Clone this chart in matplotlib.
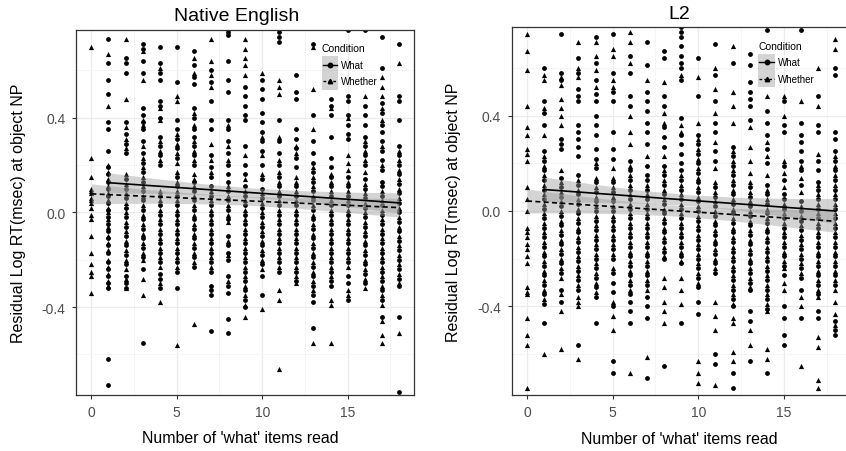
import numpy as np
import matplotlib
matplotlib.use("Agg")
import matplotlib.pyplot as plt
from matplotlib.patches import Rectangle
from matplotlib.lines import Line2D
from matplotlib.ticker import MultipleLocator, FormatStrFormatter

plt.rcParams['font.family'] = ['Liberation Sans', 'DejaVu Sans']
plt.rcParams['axes.unicode_minus'] = False

# residual log RT, in hundredths, one list per number of 'what' items read (0..18)
en_what = [
    [],
    [73, 63, 56, 50, 38, 35, 26, 19, 16, 13, 10, 7, 4, 1, -2, -5, -8, -11, -14, -17, -21, -24, -27, -30, -32, -62, -73],
    [65, 63, 59, 38, 33, 29, 25, 14, 10, 6, 2, -2, -6, -10, -14, -18, -22, -27, -30, -32],
    [71, 69, 64, 59, 44, 41, 38, 35, 30, 25, 21, 17, 13, 9, 5, 1, -3, -7, -11, -15, -19, -24, -55],
    [70, 63, 59, 56, 47, 45, 40, 32, 28, 24, 20, 7, 3, -1, -5, -9, -13, -17, -21, -26, -28, -32],
    [70, 55, 39, 35, 31, 27, 23, 15, 11, 7, 3, -1, -5, -9, -13, -17, -21, -25, -32],
    [68, 62, 57, 54, 44, 40, 35, 32, 28, 24, 20, 13, 9, 5, 1, -3, -7, -11, -15, -19, -23],
    [60, 55, 47, 39, 35, 24, 19, 15, 11, 7, 3, -1, -5, -9, -13, -17, -21, -25, -31, -33, -35, -50],
    [76, 75, 64, 56, 51, 39, 35, 30, 25, 20, 16, 13, 9, 5, 1, -3, -10, -14, -17, -20, -27, -31, -34, -45, -51],
    [53, 49, 45, 41, 39, 28, 20, 16, 11, 7, 3, -1, -5, -9, -13, -17, -21, -25, -29, -33, -37, -40],
    [56, 52, 48, 42, 38, 34, 30, 26, 20, 14, 10, 6, 2, -2, -6, -10, -14, -18, -22, -27, -35],
    [76, 74, 72, 39, 30, 25, 20, 15, 11, 7, 3, -1, -5, -9, -13, -17, -21, -25],
    [58, 51, 48, 35, 31, 27, 23, 19, 11, 7, 3, -1, -5, -9, -13, -17, -21, -25, -29],
    [71, 41, 30, 25, 21, 17, 13, 9, 5, 1, -3, -7, -11, -15, -19, -23, -27, -31, -35, -38, -49],
    [48, 45, 41, 32, 23, 19, 15, 11, 7, 3, -1, -5, -9, -13, -17, -21, -25, -29, -31],
    [77, 49, 47, 41, 37, 33, 31, 15, 11, 7, 3, -1, -5, -9, -13, -17, -21, -27, -30, -37],
    [77, 45, 41, 37, 32, 28, 24, 20, 14, 10, 6, 2, -2, -6, -10, -14, -18, -22, -26, -30],
    [74, 61, 46, 42, 37, 34, 30, 26, 22, 18, 13, 11, 7, 3, -1, -5, -9, -13, -17, -21, -25, -29, -33, -37, -44],
    [71, 49, 47, 39, 28, 24, 20, 16, 12, 8, 4, 0, -4, -8, -12, -16, -20, -24, -28, -31, -44, -76],
]
en_whether = [
    [70, 23, 15, 10, 9, 8, 6, 5, 4, 2, -1, -3, -10, -17, -22, -25, -27, -34],
    [67, 45, 20, 17, 14, 11, 8, 5, 2, 0, -3, -6, -10, -13, -16, -20, -23, -26, -29, -31],
    [73, 48, 36, 31, 27, 16, 12, 8, 4, 0, -4, -8, -12, -16, -20, -24, -28, -32],
    [68, 56, 39, 37, 28, 23, 19, 15, 11, 7, 3, -1, -5, -9, -13, -17, -20, -28, -35],
    [61, 44, 39, 30, 26, 22, 9, 5, 1, -3, -7, -11, -15, -19, -23, -30, -38],
    [49, 47, 33, 29, 25, 21, 17, 13, 9, 5, 1, -3, -7, -11, -15, -19, -23, -56],
    [65, 59, 42, 37, 30, 26, 22, 16, 14, 11, 7, 3, -1, -5, -9, -13, -17, -21, -47],
    [73, 64, 58, 53, 29, 22, 17, 9, 5, 1, -3, -7, -11, -15, -19, -23],
    [37, 28, 22, 11, 7, 3, -1, -4, -12, -18, -29],
    [73, 69, 65, 62, 58, 24, 14, 9, 5, 1, -3, -7, -11, -15, -19, -23, -27, -31, -35, -39, -44],
    [59, 32, 24, 16, 8, 4, 0, -4, -8, -12, -16, -20, -24, -41],
    [56, 53, 50, 32, 22, 17, 13, 9, 5, 1, -3, -7, -11, -15, -19, -23, -33, -37, -66],
    [28, 25, 15, 13, 9, 5, 1, -3, -7, -11, -15, -19, -23, -27, -30],
    [70, 52, 35, 19, 15, 11, 7, 3, -1, -5, -9, -13, -17, -21, -25, -29, -33, -55],
    [44, 16, 13, 9, 5, 1, -3, -7, -11, -15, -19, -23, -27, -37, -39, -55],
    [40, 24, 21, 18, 13, 9, 5, 1, -3, -7, -11, -15, -19, -23, -33, -35],
    [49, 30, 26, 22, 17, 12, 8, 4, 0, -4, -8, -12, -16, -20, -24, -28, -32],
    [57, 53, 49, 44, 39, 28, 20, 9, 5, 1, -3, -7, -11, -15, -19, -23, -27, -31, -35, -39, -46, -52, -55],
    [63, 26, 22, 18, 14, 10, 6, 2, -2, -6, -10, -14, -18, -22, -26, -30, -51],
]
l2_what = [
    [],
    [60, 46, 41, 36, 25, 21, 17, 13, 9, 5, 1, -3, -7, -11, -15, -19, -23, -27, -31, -35, -39, -47],
    [74, 58, 55, 30, 28, 26, 14, 10, 6, 2, -2, -6, -10, -14, -18, -22, -26, -33, -38],
    [64, 58, 51, 48, 46, 36, 33, 30, 27, 23, 15, 11, 7, 3, -1, -5, -9, -13, -17, -21, -25, -29, -33, -56],
    [73, 62, 55, 49, 46, 40, 36, 32, 26, 22, 18, 12, 8, 4, 0, -4, -8, -12, -16, -20, -24, -28, -32, -36, -47],
    [74, 58, 50, 46, 33, 26, 22, 12, 8, 4, 0, -4, -8, -12, -16, -20, -26, -30, -34, -40, -63, -68],
    [65, 58, 48, 44, 21, 17, 13, 9, 5, 1, -3, -7, -11, -15, -19, -23, -27, -31, -35, -38, -42, -47],
    [71, 61, 50, 46, 42, 37, 33, 28, 19, 15, 13, 9, 5, 1, -3, -7, -11, -15, -19, -23, -27, -31, -36, -40, -45, -70],
    [67, 64, 48, 44, 35, 31, 27, 19, 15, 11, 7, 3, -1, -5, -9, -13, -17, -20, -65],
    [77, 75, 73, 69, 65, 62, 60, 55, 39, 32, 28, 24, 20, 17, 13, 9, 5, 1, -3, -7, -11, -15, -19, -22, -47],
    [64, 48, 32, 28, 24, 20, 16, 12, 8, 4, 0, -4, -8, -12, -16, -20, -24, -28, -32, -38, -43],
    [70, 57, 46, 37, 33, 25, 21, 10, 6, 2, -2, -6, -10, -14, -18, -22, -26, -60, -64],
    [62, 27, 23, 19, 15, 11, 7, 3, -1, -5, -9, -13, -17, -21, -25, -29, -33, -37, -40, -68, -74],
    [66, 61, 54, 50, 47, 44, 38, 10, 6, 2, -2, -6, -10, -14, -18, -22, -26, -30, -33, -42, -46, -63],
    [76, 42, 37, 32, 26, 20, 11, 7, 3, -1, -5, -9, -13, -17, -21, -25, -29, -33, -37, -41, -68],
    [46, 36, 33, 19, 13, 7, 5, 1, -3, -7, -11, -15, -19, -23, -27, -40, -45, -52, -56],
    [76, 37, 32, 29, 25, 21, 17, 11, 4, 0, -4, -8, -12, -16, -20, -24, -28, -33, -45],
    [48, 36, 33, 21, 17, 12, 9, 5, 1, -3, -7, -11, -15, -19, -23, -27, -31, -35, -42, -45],
    [60, 57, 33, 30, 25, 21, 17, 13, 9, 5, 1, -3, -7, -11, -15, -19, -23, -27, -31, -46, -50, -52],
]
l2_whether = [
    [74, 67, 59, 44, 35, 32, 26, 24, 21, 10, 5, 0, -7, -9, -11, -14, -16, -19, -22, -32, -34, -35, -45, -52, -56, -74],
    [57, 55, 43, 32, 23, 19, 15, 11, 7, 3, -1, -5, -9, -13, -17, -21, -25, -29, -33, -37, -60],
    [56, 53, 47, 43, 40, 36, 17, 12, 8, 4, 0, -4, -8, -12, -16, -20, -24, -28, -35, -42, -58],
    [71, 60, 56, 13, 9, 5, 1, -3, -7, -11, -15, -19, -23, -27, -31, -36, -38, -40, -62],
    [71, 65, 59, 52, 20, 14, 10, 6, 2, -2, -6, -10, -14, -18, -22, -26, -30, -34],
    [68, 65, 55, 52, 18, 14, 10, 6, 2, -2, -6, -10, -14, -18, -24, -38, -44, -50],
    [75, 71, 62, 40, 33, 28, 19, 15, 11, 7, 3, -1, -5, -9, -13, -17, -21, -25, -29, -33, -68],
    [55, 23, 11, 7, 3, -1, -5, -9, -13, -17, -21, -25, -29, -33, -61],
    [54, 41, 37, 23, 17, 13, 9, 5, 1, -3, -7, -11, -15, -19, -28, -32, -38, -42, -47],
    [57, 36, 33, 15, 11, 7, 3, -1, -5, -9, -13, -17, -21, -28, -33, -39],
    [56, 37, 30, 26, 22, 18, 14, 10, 6, 2, -2, -6, -10, -14, -18, -22, -26, -30, -63, -68, -72],
    [60, 51, 41, 29, 18, 12, 8, 4, 0, -4, -8, -12, -16, -20, -24, -38, -44, -50, -73],
    [69, 50, 44, 37, 25, 21, 17, 13, 9, 5, 1, -3, -7, -11, -15, -19, -23, -27, -31, -35, -39, -45, -47, -59, -63],
    [35, 27, 21, 16, 12, 8, 4, 0, -4, -8, -12, -16, -20, -24, -28, -32, -50, -56],
    [48, 29, 23, 15, 9, 5, 1, -3, -7, -11, -15, -19, -23, -27, -31, -35, -39, -42, -58, -62],
    [48, 40, 21, 16, 10, 3, -1, -5, -9, -13, -17, -21, -24, -30, -33],
    [46, 19, 14, 8, 2, -2, -6, -10, -14, -18, -22, -26, -36, -40, -65],
    [60, 44, 24, 11, 7, 3, -1, -5, -9, -13, -17, -21, -25, -29, -33, -36, -53, -57, -71, -74],
    [72, 68, 23, 19, 15, 11, 7, 3, -1, -5, -9, -13, -17, -21, -25, -29, -33, -38, -43, -48],
]

en_what_fit = ([1, 18], [0.125, 0.040])
en_whether_fit = ([0, 18], [0.078, 0.020])
l2_what_fit = ([1, 18], [0.090, 0.000])
l2_whether_fit = ([0, 18], [0.042, -0.043])
en_what_hw = [0.042, 0.031, 0.023, 0.020, 0.023, 0.031, 0.042]
en_whether_hw = [0.042, 0.030, 0.022, 0.018, 0.022, 0.030, 0.040]
l2_what_hw = [0.052, 0.038, 0.027, 0.023, 0.027, 0.038, 0.052]
l2_whether_hw = [0.050, 0.036, 0.026, 0.022, 0.026, 0.036, 0.046]

conditions = ['What', 'Whether']

W, H = 846, 452
BAND = '#999999'
ALPHA = 0.42


def draw_points(ax, cols, marker, size):
    for x, col in enumerate(cols):
        if not col:
            continue
        ys = np.array(col) / 100.0
        ax.scatter(np.full(len(ys), x), ys, marker=marker, s=size, color='black',
                   linewidths=0, zorder=2)


def draw_fit(ax, fit, hw, ls):
    xs_end, ys_end = fit
    bx = np.linspace(xs_end[0], xs_end[1], len(hw))
    by = np.interp(bx, xs_end, ys_end)
    ax.fill_between(bx, by - np.array(hw), by + np.array(hw), color=BAND, alpha=ALPHA,
                    linewidth=0, zorder=3)
    ax.plot(xs_end, ys_end, color='black', lw=1.2, ls=ls, zorder=4)


def fx(px):
    return px / W


def fy(py):
    return 1 - py / H


def draw_legend(fig, x0, y_title, y_rows, key_w, key_top, key_bot):
    # ggplot-style legend without background: grey key box, line + marker, labels
    fig.text(fx(x0), fy(y_title), 'Condition', fontsize=7.5, ha='left', va='center')
    fig.add_artist(Rectangle((fx(x0), fy(key_bot)), fx(key_w), (key_bot - key_top) / H,
                             transform=fig.transFigure, facecolor=BAND, alpha=ALPHA,
                             edgecolor='none'))
    styles = [('-', 'o'), ((0, (2, 1.5)), '^')]
    for yr, lab, (ls, mk) in zip(y_rows, conditions, styles):
        fig.add_artist(Line2D([fx(x0 + 1), fx(x0 + key_w - 1)], [fy(yr), fy(yr)],
                              transform=fig.transFigure, color='black', lw=1.0, ls=ls))
        fig.add_artist(Line2D([fx(x0 + key_w / 2)], [fy(yr)], transform=fig.transFigure,
                              color='black', marker=mk, ms=3.2, lw=0))
        fig.text(fx(x0 + key_w + 3), fy(yr), lab, fontsize=7, ha='left', va='center')


def panel(ax, title, title_x, what, whether, what_fit, whether_fit, what_hw, whether_hw, xlab_x):
    ax.set_xlim(-0.9, 18.9)
    ax.set_ylim(-0.77, 0.77)
    draw_points(ax, what, 'o', 12)
    draw_points(ax, whether, '^', 14)
    draw_fit(ax, what_fit, what_hw, '-')
    draw_fit(ax, whether_fit, whether_hw, (0, (3, 2)))

    ax.xaxis.set_major_locator(MultipleLocator(5))
    ax.xaxis.set_minor_locator(MultipleLocator(2.5))
    ax.yaxis.set_major_locator(MultipleLocator(0.4))
    ax.yaxis.set_minor_locator(MultipleLocator(0.2))
    ax.yaxis.set_major_formatter(FormatStrFormatter('%.1f'))
    ax.grid(which='major', color='#ebebeb', lw=0.9, zorder=0)
    ax.grid(which='minor', color='#f4f4f4', lw=0.6, zorder=0)
    ax.set_axisbelow(True)
    ax.tick_params(which='major', length=3, width=0.8, color='#333333',
                   labelcolor='#4d4d4d', labelsize=10, pad=4.5)
    ax.tick_params(which='minor', length=0)
    for sp in ax.spines.values():
        sp.set_color('#333333')
        sp.set_linewidth(0.9)

    ax.set_title(title, fontsize=14, x=title_x, pad=7)
    ax.set_xlabel("Number of 'what' items read", fontsize=11.4)
    ax.set_ylabel('Residual Log RT(msec) at object NP', fontsize=11.5)
    ax.xaxis.set_label_coords(xlab_x, -0.098)
    ax.yaxis.set_label_coords(-0.148, 0.5)


fig = plt.figure(figsize=(W / 100, H / 100), dpi=100)
ax1 = fig.add_axes([0.0898, 0.1246, 0.3999, 0.8069])
ax2 = fig.add_axes([0.6048, 0.1246, 0.4007, 0.8128])

panel(ax1, 'Native English', 0.476, en_what, en_whether, en_what_fit, en_whether_fit,
      en_what_hw, en_whether_hw, 0.485)
panel(ax2, 'L2', 0.4935, l2_what, l2_whether, l2_what_fit, l2_whether_fit,
      l2_what_hw, l2_whether_hw, 0.4935)

draw_legend(fig, 321.7, 49.3, [65.7, 82.3], 16.6, 57.3, 90.7)
draw_legend(fig, 758.3, 46.7, [63.3, 80.0], 16.6, 55.0, 88.3)

fig.savefig('out.png', dpi=100)
